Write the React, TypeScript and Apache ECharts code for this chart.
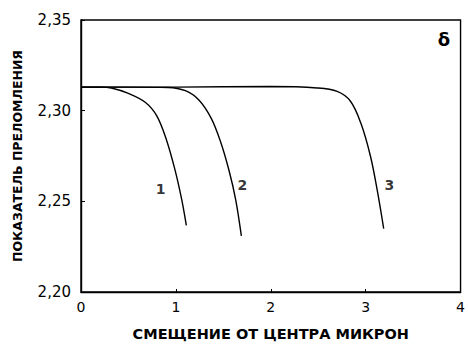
import React, { useEffect, useRef } from "react";
import * as echarts from "echarts";

const xTicks = [0, 1, 2, 3, 4];
const yTicks = ["2,20", "2,25", "2,30", "2,35"];

const curve1: [number, number][] = [
  [0, 2.313], [0.2, 2.313], [0.32, 2.3125], [0.5, 2.3095], [0.68, 2.3045],
  [0.8, 2.297], [0.9, 2.284], [0.99, 2.2675], [1.06, 2.2513], [1.11, 2.2367],
];
const curve2: [number, number][] = [
  [0, 2.313], [0.5, 2.313], [0.92, 2.3128], [1.1, 2.311], [1.24, 2.306],
  [1.37, 2.296], [1.47, 2.283], [1.56, 2.267], [1.63, 2.251], [1.69, 2.231],
];
const curve3: [number, number][] = [
  [0, 2.313], [1, 2.313], [2, 2.3133], [2.49, 2.3125], [2.7, 2.3106], [2.84, 2.3052],
  [2.95, 2.293], [3.05, 2.275], [3.12, 2.2567], [3.19, 2.235],
];
const curveLabels: { name: string; value: [number, number] }[] = [
  { name: "1", value: [0.84, 2.257] },
  { name: "2", value: [1.7, 2.259] },
  { name: "3", value: [3.25, 2.259] },
];
const panelMark = "δ";
const xTitle = "СМЕЩЕНИЕ ОТ ЦЕНТРА МИКРОН";
const yTitle = "ПОКАЗАТЕЛЬ ПРЕЛОМЛЕНИЯ";

const FONT = "DejaVu Sans";

export default function App() {
  const ref = useRef<HTMLDivElement>(null);
  useEffect(() => {
    if (!ref.current) return;
    const chart = echarts.init(ref.current, null, { renderer: "svg" });
    const lineSeries = (d: [number, number][]) => ({
      type: "line",
      data: d,
      smooth: 0.35,
      showSymbol: false,
      symbol: "none",
      lineStyle: { color: "#000", width: 1.4 },
    });
    chart.setOption({
      animation: false,
      backgroundColor: "#fff",
      grid: {
        left: 81, right: 4, top: 20, bottom: 48,
        show: true, borderColor: "#000", borderWidth: 1.4,
      },
      xAxis: {
        type: "value", min: 0, max: 4, interval: 1,
        name: xTitle, nameLocation: "middle", nameGap: 34,
        nameTextStyle: { fontFamily: FONT, fontSize: 14.5, fontWeight: "bold", color: "#000" },
        axisLine: { lineStyle: { color: "#000", width: 1.4 } },
        axisTick: { inside: true, length: 3, lineStyle: { color: "#000" } },
        axisLabel: {
          fontFamily: FONT, fontSize: 14, color: "#000", margin: 8,
          formatter: (v: number) => (xTicks.includes(v) ? String(v) : ""),
        },
        splitLine: { show: false },
      },
      yAxis: {
        type: "value", min: 2.2, max: 2.35, interval: 0.05,
        name: yTitle, nameLocation: "middle", nameGap: 57, nameRotate: 90,
        nameTextStyle: { fontFamily: FONT, fontSize: 12.5, fontWeight: "bold", color: "#000" },
        axisLine: { lineStyle: { color: "#000", width: 1.4 } },
        axisTick: { inside: true, length: 4, lineStyle: { color: "#000" } },
        axisLabel: {
          fontFamily: FONT, fontSize: 15, color: "#000", margin: 10,
          formatter: (v: number) => yTicks[Math.round((v - 2.2) / 0.05)] ?? "",
        },
        splitLine: { show: false },
      },
      graphic: [
        {
          type: "text", right: 18, top: 30,
          style: { text: panelMark, fontFamily: FONT, fontSize: 18, fontWeight: "bold", fill: "#000" },
        },
      ],
      series: [
        lineSeries(curve1),
        lineSeries(curve2),
        lineSeries(curve3),
        {
          type: "scatter",
          data: curveLabels,
          symbolSize: 0,
          label: {
            show: true, position: "inside", formatter: "{b}",
            fontFamily: FONT, fontSize: 14, fontWeight: "bold", color: "#000",
          },
        },
      ],
    });
    return () => chart.dispose();
  }, []);
  return (
    <div
      ref={ref}
      style={{ position: "fixed", left: 0, top: 0, width: 468, height: 346, background: "#fff" }}
    />
  );
}
